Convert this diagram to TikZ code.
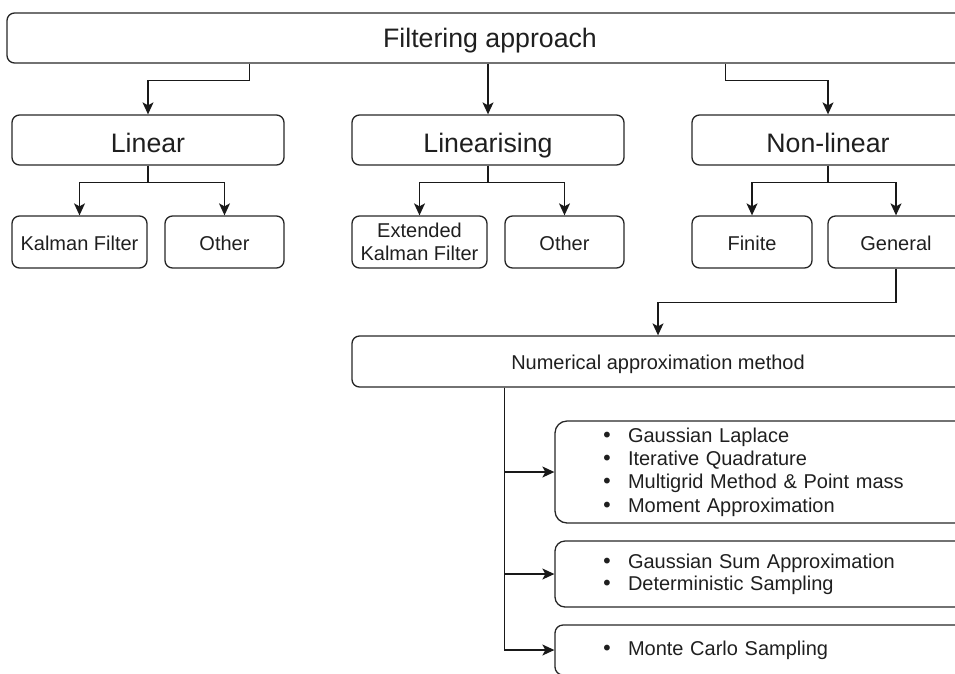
\documentclass[tikz,border=0pt]{standalone}
\usepackage{fontspec}
\setmainfont{Liberation Sans}
\newfontfamily\dotfont{DejaVu Sans}
\usetikzlibrary{arrows.meta}
\newcommand\dotitem{{\dotfont •}\hspace{15.2pt}}
\begin{document}
\begin{tikzpicture}[x=1pt,y=-1pt,
  box/.style={draw=black!85, line width=1.3pt, rounded corners=7.5pt, inner sep=0pt,
    text=black!88, minimum height=51pt},
  big/.style={font=\fontsize{26.7}{32}\selectfont, text height=24pt, text depth=0pt},
  small/.style={font=\fontsize{20}{23.3}\selectfont},
  one/.style={text height=16pt, text depth=0pt},
  listbox/.style={box, small, rounded corners=12pt, text width=328pt, align=left,
    inner xsep=46pt, inner ysep=0pt},
  link/.style={draw=black!90, line width=1.3pt, -{Stealth[length=12pt,width=11pt,inset=3pt]}},
]
\useasboundingbox (0,0) rectangle (955,673);
\clip (0,0) rectangle (955,673);

% top level
\node[box, big, text height=18pt, minimum width=966pt, minimum height=50pt] (top) at (490,38) {Filtering approach};

% second level
\node[box, big, minimum width=272pt, minimum height=50pt] (lin)  at (148,140) {Linear};
\node[box, big, minimum width=272pt, minimum height=50pt] (lzn)  at (488,140) {Linearising};
\node[box, big, minimum width=272pt, minimum height=50pt] (nlin) at (828,140) {Non-linear};

% third level
\node[box, small, one, minimum width=135pt, minimum height=52pt] (kal)  at (79.5,242)  {Kalman Filter};
\node[box, small, one, minimum width=119pt, minimum height=52pt] (oth1) at (224.5,242) {Other};
\node[box, small, minimum width=135pt, minimum height=52pt, align=center] (ekf) at (419.5,242) {Extended\\Kalman Filter};
\node[box, small, one, minimum width=119pt, minimum height=52pt] (oth2) at (564.5,242) {Other};
\node[box, small, one, minimum width=120pt, minimum height=52pt] (fin)  at (752,242) {Finite};
\node[box, small, one, minimum width=136pt, minimum height=52pt] (gen)  at (896,242) {General};

% numerical approximation
\node[box, small, text height=15pt, text depth=0pt, minimum width=612pt, minimum height=51pt] (num) at (658,361.5) {Numerical approximation method};

% method lists
\node[listbox, minimum height=102pt] (m1) at (765,472) {%
  \dotitem Gaussian Laplace\\
  \dotitem Iterative Quadrature\\
  \dotitem Multigrid Method \& Point mass\\
  \dotitem Moment Approximation};
\node[listbox, minimum height=66pt, rounded corners=10pt] (m2) at (765,574) {%
  \dotitem Gaussian Sum Approximation\\[-1.3pt]
  \dotitem Deterministic Sampling};
\node[listbox, minimum height=50pt, rounded corners=8pt] (m3) at (765,650) {%
  \dotitem Monte Carlo Sampling};

% connectors from the top box
\draw[link] ([xshift=243pt]top.south west) -- ++(0,17) -| (lin.north);
\draw[link] (top.south -| lzn.north) -- (lzn.north);
\draw[link] ([xshift=719pt]top.south west) -- ++(0,17) -| (nlin.north);

% second to third level
\draw[link] (lin.south) -- ++(0,17) -| (kal.north);
\draw[link] (lin.south) -- ++(0,17) -| (oth1.north);
\draw[link] (lzn.south) -- ++(0,17) -| (ekf.north);
\draw[link] (lzn.south) -- ++(0,17) -| (oth2.north);
\draw[link] (nlin.south) -- ++(0,17) -| (fin.north);
\draw[link] (nlin.south) -- ++(0,17) -| (gen.north);

% general to numerical
\draw[link] (gen.south) -- ++(0,34) -| (num.north);

% numerical to method lists
\coordinate (stem) at ([xshift=153pt]num.south west);
\draw[link] (stem) |- (m1.west);
\draw[link] (stem) |- (m2.west);
\draw[link] (stem) |- (m3.west);
\end{tikzpicture}
\end{document}
